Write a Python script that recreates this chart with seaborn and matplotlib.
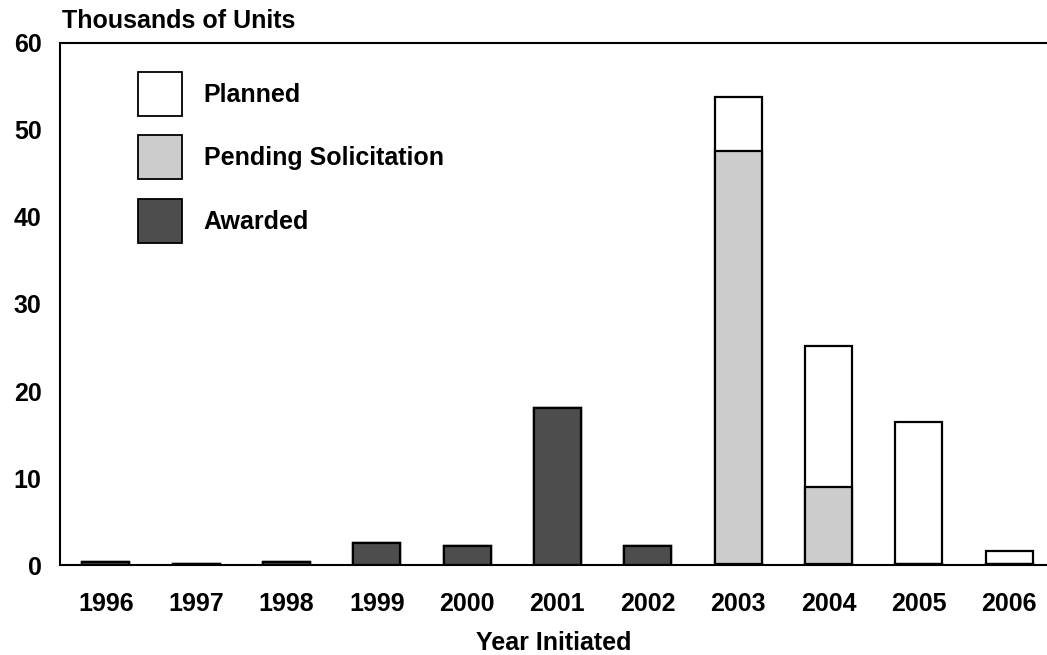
import matplotlib

matplotlib.use("Agg")

import matplotlib.pyplot as plt
import numpy as np
import pandas as pd
import seaborn as sns
from matplotlib.patches import Patch

years = ["1996", "1997", "1998", "1999", "2000", "2001", "2002", "2003", "2004", "2005", "2006"]
awarded = [0.35, 0.1, 0.35, 2.6, 2.2, 18.0, 2.2, 0.1, 0.1, 0.1, 0.1]
pending = [0.0, 0.0, 0.0, 0.0, 0.0, 0.0, 0.0, 47.4, 8.9, 0.0, 0.0]
planned = [0.0, 0.0, 0.0, 0.0, 0.0, 0.0, 0.0, 6.3, 16.2, 16.3, 1.5]

colors = {"Planned": "#ffffff", "Pending Solicitation": "#cccccc", "Awarded": "#4d4d4d"}

df = pd.DataFrame({"year": years, "Awarded": awarded, "Pending": pending, "Planned": planned})
df["lvl_awarded"] = df["Awarded"]
df["lvl_pending"] = df["lvl_awarded"] + df["Pending"]
df["lvl_planned"] = df["lvl_pending"] + df["Planned"]

sns.set_theme(style="white")
plt.rcParams["font.family"] = ["Liberation Sans", "DejaVu Sans"]
plt.rcParams["font.weight"] = "bold"
plt.rcParams["text.color"] = "black"
plt.rcParams["xtick.color"] = "black"
plt.rcParams["ytick.color"] = "black"
plt.rcParams["axes.labelcolor"] = "black"

FS = 18

fig, ax = plt.subplots(figsize=(10.47, 6.55), dpi=100)
fig.subplots_adjust(left=0.057, right=1.0, top=0.935, bottom=0.137)

# draw cumulative levels back to front so each layer shows as a stacked segment
for col, label in [("lvl_planned", "Planned"), ("lvl_pending", "Pending Solicitation"), ("lvl_awarded", "Awarded")]:
    sns.barplot(data=df, x="year", y=col, color=colors[label], edgecolor="black",
                linewidth=1.6, width=0.52, saturation=1, ax=ax, order=years)

ax.set_ylim(0, 60)
ax.set_xlim(-0.51, 10.42)
ax.set_yticks(np.arange(0, 61, 10))
ax.tick_params(axis="both", length=0, labelsize=FS)
ax.tick_params(axis="y", pad=13)
ax.tick_params(axis="x", pad=19)
for t in ax.get_xticklabels() + ax.get_yticklabels():
    t.set_fontweight("bold")
ax.set_ylabel("")
ax.set_xlabel("Year Initiated", fontsize=FS, fontweight="bold", labelpad=11)
for side in ["left", "bottom", "top"]:
    ax.spines[side].set_color("black")
    ax.spines[side].set_linewidth(1.5)
ax.spines["right"].set_visible(False)

fig.text(0.059, 0.968, "Thousands of Units", fontsize=FS, fontweight="bold", va="center", ha="left")

handles = [Patch(facecolor=colors[k], edgecolor="black", linewidth=1.3) for k in colors]
ax.legend(handles, list(colors), loc="upper left", bbox_to_anchor=(0.079, 0.944),
          frameon=False, handlelength=1.76, handleheight=2.33, borderpad=0,
          borderaxespad=0, labelspacing=0.78, handletextpad=0.88,
          prop={"weight": "bold", "size": FS})

fig.savefig("out.png", dpi=100)
